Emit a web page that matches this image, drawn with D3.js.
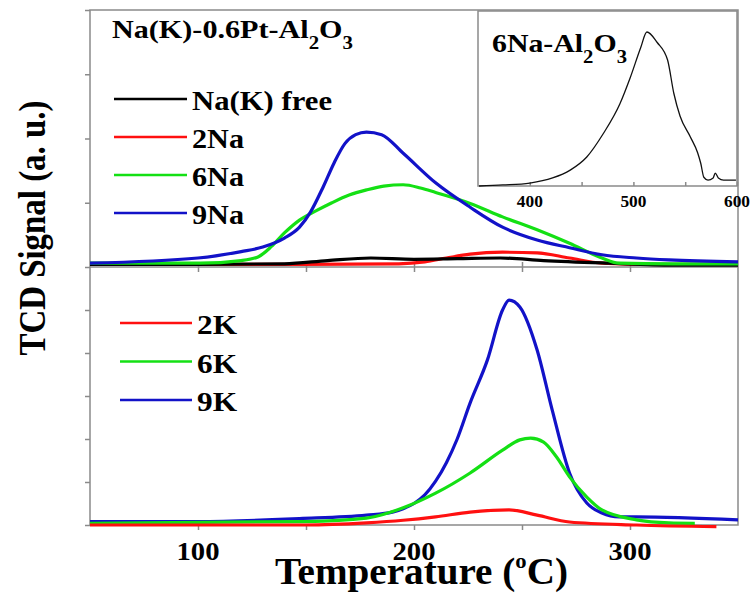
<!DOCTYPE html>
<meta charset="utf-8">
<title>TCD signal vs temperature</title>
<style>
body { margin: 0; background: white; }
svg text { font-family: 'Liberation Serif', 'Times New Roman', Times, Tinos, 'Nimbus Roman', FreeSerif, 'DejaVu Serif', 'Noto Serif', serif; font-weight: bold; }
.frame { stroke: #8a8a8a; stroke-width: 1.5px; fill: none; }
.axis path, .axis line { stroke: #8a8a8a; stroke-width: 1.5px; }
.curve { fill: none; stroke-width: 3.2px; stroke-linejoin: round; }
</style>
<body>
<script src="https://d3js.org/d3.v7.min.js"></script>
<script>

// ---- data ([temperature, signal]) ----
// upper panel: Na series
var naFree = [[50,0.04],[100,0.04],[140,0.05],[160,0.10],[180,0.14],[200,0.12],[220,0.13],[240,0.14],[260,0.10],[290,0.06],[320,0.03],[350,0.03]];
var na2 = [[50,0.05],[100,0.04],[147,0.04],[193,0.05],[205,0.08],[215,0.14],[226,0.20],[241,0.23],[257,0.22],[272,0.14],[287,0.06],[310,0.04],[350,0.04]];
var na6 = [[50,0.06],[101,0.06],[120,0.10],[128,0.16],[134,0.32],[140,0.53],[147,0.73],[155,0.88],[162,1.0],[170,1.12],[178,1.2],[186,1.26],[195,1.28],[203,1.23],[210,1.16],[226,0.99],[241,0.78],[257,0.58],[272,0.37],[287,0.14],[295,0.06],[320,0.05],[350,0.05]];
var na9 = [[50,0.06],[100,0.14],[120,0.24],[130,0.31],[140,0.45],[147,0.62],[152,0.85],[158,1.25],[163,1.62],[168,1.92],[173,2.06],[178,2.10],[185,2.06],[195,1.77],[210,1.31],[226,0.93],[241,0.62],[257,0.42],[272,0.30],[287,0.19],[303,0.14],[318,0.11],[350,0.08]];

// lower panel: K series
var k2 = [[50,0.0],[150,0.0],[178,0.05],[195,0.11],[210,0.19],[226,0.30],[244,0.35],[257,0.23],[272,0.07],[303,0.0],[340,-0.04]];
var k6 = [[50,0.04],[150,0.08],[178,0.16],[195,0.40],[210,0.74],[226,1.21],[241,1.74],[249,1.98],[254,2.02],[260,1.93],[266,1.58],[272,1.12],[280,0.65],[287,0.35],[303,0.12],[318,0.05],[330,0.04]];
var k9 = [[50,0.08],[100,0.08],[147,0.15],[178,0.23],[190,0.30],[195,0.38],[200,0.50],[205,0.70],[210,1.02],[215,1.45],[220,2.0],[226,2.84],[234,3.84],[241,5.0],[244,5.23],[249,5.07],[257,4.07],[264,2.67],[272,1.21],[280,0.51],[287,0.28],[295,0.19],[303,0.19],[350,0.12]];

// inset: 6Na-Al2O3
var inset6Na = [[351,0.0],[374,0.006],[400,0.017],[422,0.046],[439,0.091],[455,0.166],[471,0.30],[487,0.47],[497,0.62],[507,0.79],[513,0.88],[523,0.82],[533,0.72],[539,0.53],[545,0.40],[555,0.28],[562,0.19],[565,0.13],[568,0.05],[572,0.034],[577,0.046],[579,0.074],[582,0.046],[587,0.034],[599,0.034]];

var xTicks = [100, 200, 300];
var insetTicks = [400, 500, 600];
var naLegend = ["Na(K) free", "2Na", "6Na", "9Na"];
var kLegend = ["2K", "6K", "9K"];
var colors = {black: "#000000", red: "#ff1010", green: "#14e014", blue: "#1212c8"};

var W = 751, H = 602;
var svg = d3.select("body").append("svg").attr("width", W).attr("height", H);

// squeeze/stretch a text to the width it has in the picture
function fit(sel, w) {
  return sel.attr("textLength", w).attr("lengthAdjust", "spacingAndGlyphs");
}

// scales
var x = d3.scaleLinear().domain([50, 350]).range([90, 738]);
var yTop = d3.scaleLinear().domain([0, 4]).range([267, 10]);
var yBot = d3.scaleLinear().domain([0, 6]).range([525, 267]);
var xIn = d3.scaleLinear().domain([350, 600]).range([478, 737]);
var yIn = d3.scaleLinear().domain([0, 1]).range([186, 11]);

// axes
svg.append("g").attr("class", "axis").attr("transform", "translate(0,525)")
  .call(d3.axisBottom(x).tickValues([100,150,200,250,300]).tickSize(5).tickFormat(""));
svg.append("g").attr("class", "axis").attr("transform", "translate(0,267)")
  .call(d3.axisBottom(x).tickValues([100,150,200,250,300]).tickSize(5).tickFormat(""));
svg.append("g").attr("class", "axis").attr("transform", "translate(0,267)")
  .call(d3.axisTop(x).tickValues([100,150,200,250,300]).tickSize(5).tickFormat(""));
svg.append("g").attr("class", "axis").attr("transform", "translate(90,0)")
  .call(d3.axisLeft(yTop).tickValues([1,2,3,4]).tickSize(5).tickFormat(""));
svg.append("g").attr("class", "axis").attr("transform", "translate(90,0)")
  .call(d3.axisLeft(yBot).tickValues([0,1,2,3,4,5,6]).tickSize(5).tickFormat(""));
svg.selectAll(".axis path").remove();

svg.append("rect").attr("class", "frame")
  .attr("x", 90).attr("y", 10).attr("width", 648).attr("height", 515);
svg.append("line").attr("class", "frame")
  .attr("x1", 90).attr("x2", 738).attr("y1", 267).attr("y2", 267);

// tick labels
svg.selectAll("text.xt").data(xTicks).enter().append("text")
  .attr("class", "xt")
  .attr("x", function(d) { return x(d) - 21.5; })
  .attr("y", 560)
  .style("font-size", "26px")
  .attr("textLength", 43).attr("lengthAdjust", "spacingAndGlyphs")
  .text(function(d) { return d; });

// curves
var lineTop = d3.line().x(function(d) { return x(d[0]); }).y(function(d) { return yTop(d[1]); }).curve(d3.curveMonotoneX);
var lineBot = d3.line().x(function(d) { return x(d[0]); }).y(function(d) { return yBot(d[1]); }).curve(d3.curveMonotoneX);

[[na2, colors.red], [naFree, colors.black], [na6, colors.green], [na9, colors.blue]].forEach(function(s) {
  svg.append("path").attr("class", "curve").attr("d", lineTop(s[0])).attr("stroke", s[1]);
});
[[k9, colors.blue], [k6, colors.green], [k2, colors.red]].forEach(function(s) {
  svg.append("path").attr("class", "curve").attr("d", lineBot(s[0])).attr("stroke", s[1]);
});

// inset
var gIn = svg.append("g");
gIn.append("rect").attr("x", 478).attr("y", 11).attr("width", 259).attr("height", 175)
  .attr("fill", "white").attr("class", "frame");
gIn.append("g").attr("class", "axis").attr("transform", "translate(0,186)")
  .call(d3.axisTop(xIn).tickValues([400,450,500,550,600]).tickSize(4).tickFormat(""));
gIn.selectAll(".axis path").remove();
gIn.selectAll("text.it").data(insetTicks).enter().append("text")
  .attr("class", "it")
  .attr("x", function(d) { return xIn(d) - 13; })
  .attr("y", 207)
  .style("font-size", "17px")
  .attr("textLength", 26).attr("lengthAdjust", "spacingAndGlyphs")
  .text(function(d) { return d; });
var lineIn = d3.line().x(function(d) { return xIn(d[0]); }).y(function(d) { return yIn(d[1]); }).curve(d3.curveMonotoneX);
gIn.append("path").attr("d", lineIn(inset6Na)).attr("fill", "none")
  .attr("stroke", "#111").attr("stroke-width", 1.3);

var t2 = gIn.append("text").attr("x", 492).attr("y", 52).style("font-size", "26px");
t2.append("tspan").text("6Na-Al");
t2.append("tspan").attr("dy", 11).style("font-size", "18px").text("2");
t2.append("tspan").attr("dy", -11).text("O");
t2.append("tspan").attr("dy", 11).style("font-size", "18px").text("3");
fit(t2, 135);

// title
var t1 = svg.append("text").attr("x", 112).attr("y", 38).style("font-size", "26px");
t1.append("tspan").text("Na(K)-0.6Pt-Al");
t1.append("tspan").attr("dy", 11).style("font-size", "18px").text("2");
t1.append("tspan").attr("dy", -11).text("O");
t1.append("tspan").attr("dy", 11).style("font-size", "18px").text("3");
fit(t1, 241);

// legends
var naColors = [colors.black, colors.red, colors.green, colors.blue];
naLegend.forEach(function(name, i) {
  var yy = 99 + i * 38;
  svg.append("line").attr("x1", 114).attr("x2", 187).attr("y1", yy).attr("y2", yy)
    .attr("stroke", naColors[i]).attr("stroke-width", 2.5);
  fit(svg.append("text").attr("x", 192).attr("y", yy + 11).style("font-size", "27px").text(name),
      i === 0 ? 140 : 52);
});
var kColors = [colors.red, colors.green, colors.blue];
kLegend.forEach(function(name, i) {
  var yy = 323 + i * 38.5;
  svg.append("line").attr("x1", 120).attr("x2", 192).attr("y1", yy).attr("y2", yy)
    .attr("stroke", kColors[i]).attr("stroke-width", 2.5);
  fit(svg.append("text").attr("x", 197).attr("y", yy + 11).style("font-size", "27px").text(name), 40);
});

// axis titles
var xl = svg.append("text")
  .attr("x", 275).attr("y", 584)
  .style("font-size", "38px");
xl.append("tspan").text("Temperature (");
xl.append("tspan").attr("dy", -16).style("font-size", "22px").text("o");
xl.append("tspan").attr("dy", 16).text("C)");
fit(xl, 293);

svg.append("text")
  .attr("transform", "translate(45,228) rotate(-90)")
  .attr("text-anchor", "middle")
  .attr("textLength", 255)
  .attr("lengthAdjust", "spacingAndGlyphs")
  .style("font-size", "38px")
  .text("TCD Signal (a. u.)");

</script>
</body>
